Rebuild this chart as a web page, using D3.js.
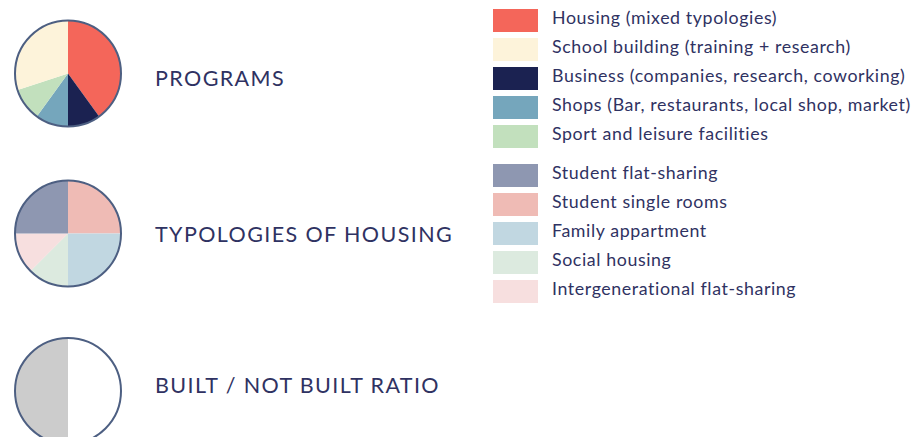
<!DOCTYPE html>
<html>
<head>
<meta charset="utf-8">
<script src="https://cdn.jsdelivr.net/npm/d3@7"></script>
<style>
  body { margin: 0; background: #fff; }
  text { font-family: Lato, "Open Sans", sans-serif; fill: #2f3262; }
</style>
</head>
<body>
<div id="chart"></div>
<script>
// pie titles
const titles = ["PROGRAMS", "TYPOLOGIES OF HOUSING", "BUILT / NOT BUILT RATIO"];

// programs (legend order) and their share in %
const programNames = [
  "Housing (mixed typologies)",
  "School building (training + research)",
  "Business (companies, research, coworking)",
  "Shops (Bar, restaurants, local shop, market)",
  "Sport and leisure facilities"
];
const programColors = ["#f4665a", "#fdf3da", "#1b2251", "#75a6bc", "#c2e0bd"];
const programValues = [40, 30, 10, 10, 10];
// order of slices clockwise from top
const programOrder = [0, 2, 3, 4, 1];

// housing typologies
const housingNames = [
  "Student flat-sharing",
  "Student single rooms",
  "Family appartment",
  "Social housing",
  "Intergenerational flat-sharing"
];
const housingColors = ["#8e97b1", "#efbbb5", "#c1d7e1", "#dceadf", "#f7dfdf"];
const housingValues = [25, 25, 25, 12.5, 12.5];
const housingOrder = [1, 2, 3, 4, 0];

// built / not built
const builtNames = ["Not built", "Built"];
const builtColors = ["#ffffff", "#cccccc"];
const builtValues = [50, 50];
const builtOrder = [0, 1];

const width = 915, height = 437;
const svg = d3.select("#chart").append("svg").attr("width", width).attr("height", height);

const pie = d3.pie().sort(null).value(d => d.value);
const arc = d3.arc().innerRadius(0).outerRadius(53);

const pies = [
  { names: programNames, colors: programColors, values: programValues, order: programOrder, cy: 73.5 },
  { names: housingNames, colors: housingColors, values: housingValues, order: housingOrder, cy: 233.5 },
  { names: builtNames, colors: builtColors, values: builtValues, order: builtOrder, cy: 391 }
];

pies.forEach((p, k) => {
  const data = p.order.map(i => ({ name: p.names[i], value: p.values[i], color: p.colors[i] }));
  const g = svg.append("g").attr("transform", `translate(68,${p.cy})`);
  g.selectAll("path")
    .data(pie(data))
    .join("path")
    .attr("d", arc)
    .attr("fill", d => d.data.color);
  g.append("circle")
    .attr("r", 53)
    .attr("fill", "none")
    .attr("stroke", "#4d5f82")
    .attr("stroke-width", 2);

  svg.append("text")
    .attr("x", 155)
    .attr("y", [86, 242, 393][k])
    .style("font-size", "21.5px")
    .style("letter-spacing", "1.4px")
    .text(titles[k]);
});

// legends
const legendX = 493, rowH = 29;
function legend(names, colors, y0) {
  const g = svg.append("g").attr("transform", `translate(${legendX},${y0})`);
  const rows = g.selectAll("g")
    .data(names)
    .join("g")
    .attr("transform", (d, i) => `translate(0,${i * rowH})`);
  rows.append("rect")
    .attr("width", 45)
    .attr("height", 23)
    .attr("fill", (d, i) => colors[i]);
  rows.append("text")
    .attr("x", 59)
    .attr("y", 15)
    .style("font-size", "17.8px")
    .style("letter-spacing", "0.6px")
    .text(d => d);
}
legend(programNames, programColors, 9);
legend(housingNames, housingColors, 164);
</script>
</body>
</html>
